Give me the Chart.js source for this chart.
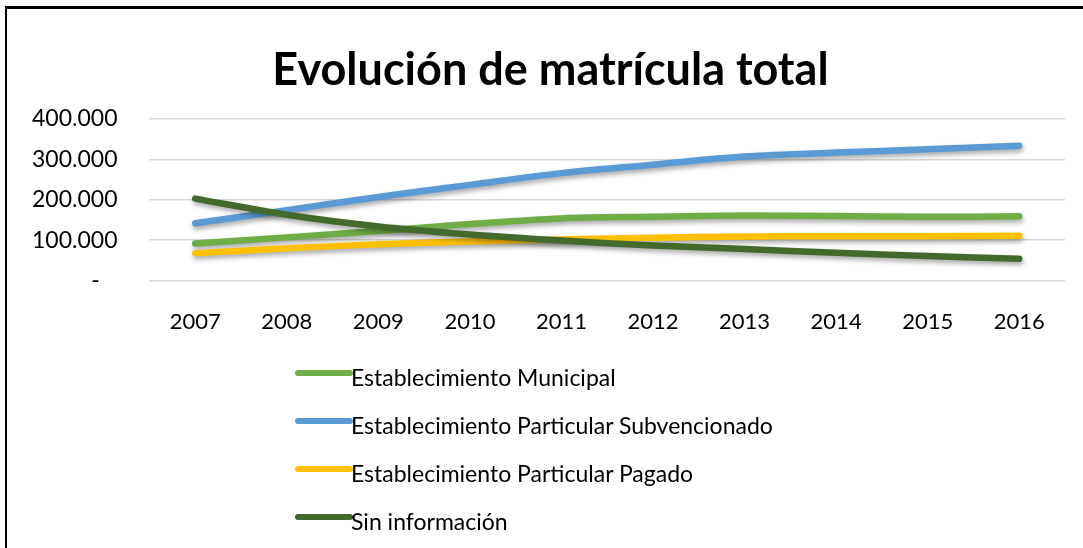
<!DOCTYPE html>
<html>
<head>
<meta charset="utf-8">
<script src="https://cdn.jsdelivr.net/npm/chart.js@4/dist/chart.umd.min.js"></script>
<style>
  body { margin: 0; background: #fff; }
  .marco { position: absolute; left: 0; top: 0; width: 1083px; height: 548px; overflow: hidden; }
  .borde { position: absolute; left: 5px; top: 6px; width: 1090px; height: 560px; border-left: 2px solid #000; border-top: 3px solid #000; }
  #leyenda { position: absolute; left: 295px; top: 351px; font-family: Lato, sans-serif; font-size: 23px; color: #000; }
  #leyenda .item { height: 48px; position: relative; }
  #leyenda .linea { position: absolute; left: 0; top: 19px; width: 58px; height: 6px; border-radius: 3px; }
  #leyenda .texto { position: absolute; left: 56px; top: 12px; white-space: nowrap; }
</style>
</head>
<body>
<div class="marco">
  <canvas id="grafico" width="1083" height="548"></canvas>
  <div class="borde"></div>
  <div id="leyenda"></div>
</div>
<script>
// datos
var anios = ['2007', '2008', '2009', '2010', '2011', '2012', '2013', '2014', '2015', '2016'];
var municipal = [92000, 107000, 123000, 140000, 154000, 158000, 161000, 160000, 158000, 159000];
var subvencionado = [142000, 174000, 207000, 237000, 266000, 287000, 307000, 317000, 325000, 334000];
var pagado = [68000, 80000, 90000, 97000, 102000, 106000, 109000, 110000, 110000, 111000];
var sinInfo = [203000, 163000, 134000, 114000, 99000, 87000, 78000, 69000, 61000, 54000];
var ticksY = [0, 100000, 200000, 300000, 400000];

var series = [
  { label: 'Establecimiento Municipal', data: municipal, color: '#70ad47' },
  { label: 'Establecimiento Particular Subvencionado', data: subvencionado, color: '#5b9bd5' },
  { label: 'Establecimiento Particular Pagado', data: pagado, color: '#ffc000' },
  { label: 'Sin información', data: sinInfo, color: '#44692c' }
];

function formato(v) {
  if (v === 0) return '-   ';
  return String(v).replace(/\B(?=(\d{3})+(?!\d))/g, '.');
}

// sombra de las lineas como en excel
var sombra = {
  id: 'sombra',
  beforeDatasetsDraw: function (chart) {
    var ctx = chart.ctx;
    ctx.save();
    ctx.shadowColor = 'rgba(0,0,0,0.35)';
    ctx.shadowBlur = 5;
    ctx.shadowOffsetX = 1;
    ctx.shadowOffsetY = 3;
  },
  afterDatasetsDraw: function (chart) {
    chart.ctx.restore();
  }
};

// el titulo va un poco mas a la derecha
var moverTitulo = {
  id: 'moverTitulo',
  afterLayout: function (chart) {
    if (chart.titleBlock) chart.titleBlock.left += 36;
  }
};

var datasets = [];
for (var i = 0; i < series.length; i++) {
  datasets.push({
    label: series[i].label,
    data: series[i].data,
    borderColor: series[i].color,
    backgroundColor: series[i].color,
    borderWidth: 6.5,
    borderCapStyle: 'round',
    borderJoinStyle: 'round',
    pointRadius: 0,
    tension: 0.35,
    fill: false,
    order: series.length - i
  });
}

var ctx = document.getElementById('grafico');
var chart = new Chart(ctx, {
  type: 'line',
  data: { labels: anios, datasets: datasets },
  plugins: [sombra, moverTitulo],
  options: {
    responsive: false,
    animation: false,
    layout: { padding: { left: 0, right: 18, top: 8, bottom: 185 } },
    plugins: {
      legend: { display: false },
      tooltip: { enabled: false },
      title: {
        display: true,
        text: 'Evolución de matrícula total',
        color: '#000',
        font: { family: 'Lato', size: 45, weight: 'bold' },
        padding: { top: 35, bottom: 22 }
      }
    },
    scales: {
      x: {
        offset: true,
        grid: { display: false, drawTicks: false },
        border: { display: false },
        ticks: { color: '#000', padding: 28, font: { family: 'Lato', size: 22 } }
      },
      y: {
        min: 0,
        max: 400000,
        afterBuildTicks: function (axis) {
          axis.ticks = ticksY.map(function (v) { return { value: v }; });
        },
        grid: { color: '#d9d9d9', lineWidth: 1.5, drawTicks: false },
        border: { display: false },
        ticks: {
          color: '#000',
          padding: 32,
          font: { family: 'Lato', size: 23 },
          callback: function (v) { return formato(v); }
        }
      }
    }
  }
});

// leyenda vertical abajo
var leyenda = document.getElementById('leyenda');
chart.data.datasets.forEach(function (ds) {
  var item = document.createElement('div');
  item.className = 'item';
  item.innerHTML = '<div class="linea" style="background:' + ds.borderColor + '"></div><div class="texto"></div>';
  item.querySelector('.texto').textContent = ds.label;
  leyenda.appendChild(item);
});
</script>
</body>
</html>
